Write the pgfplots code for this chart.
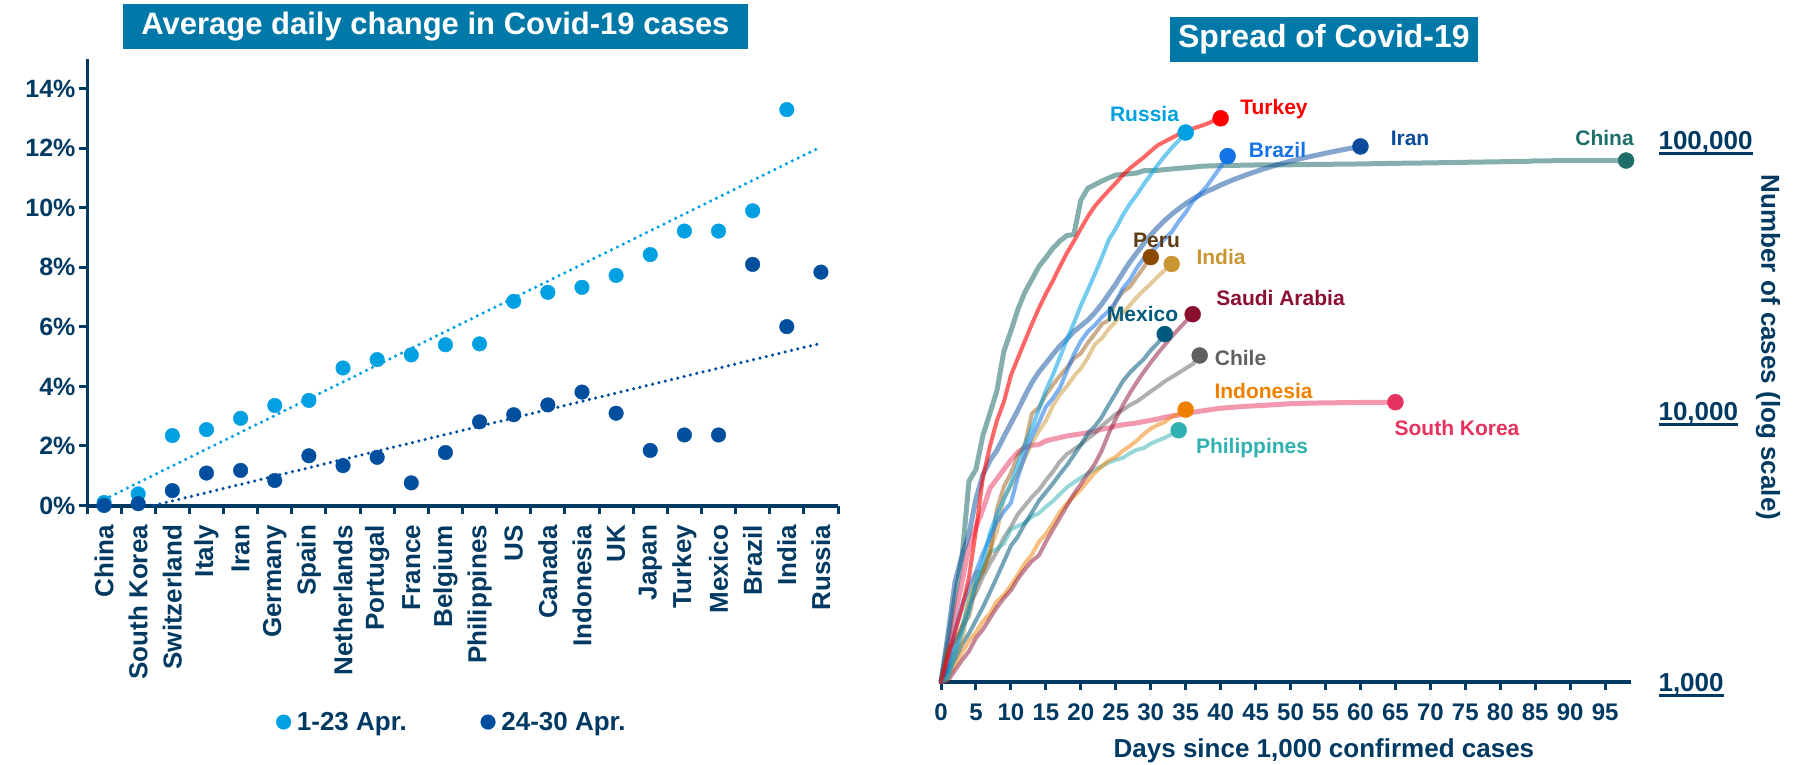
\documentclass[border=0pt]{standalone}
\usepackage{fontspec}
\setmainfont{Liberation Sans}
\usepackage{pgfplots}
\pgfplotsset{compat=1.18}
\definecolor{navy}{RGB}{0,58,99}
\definecolor{titlebg}{RGB}{0,120,168}
\definecolor{lblue}{RGB}{0,160,226}
\definecolor{dblue}{RGB}{0,78,158}
\definecolor{cChina}{RGB}{31,110,106}
\definecolor{cTurkey}{RGB}{255,0,0}
\definecolor{cRussia}{RGB}{0,160,225}
\definecolor{cBrazil}{RGB}{20,115,230}
\definecolor{cIran}{RGB}{10,75,155}
\definecolor{cPeru}{RGB}{139,74,0}
\definecolor{cPeruT}{RGB}{95,60,20}
\definecolor{cIndia}{RGB}{200,150,50}
\definecolor{cMexico}{RGB}{0,90,125}
\definecolor{cSaudi}{RGB}{139,16,48}
\definecolor{cChile}{RGB}{96,96,96}
\definecolor{cIndo}{RGB}{240,128,0}
\definecolor{cKorea}{RGB}{230,50,95}
\definecolor{cPhil}{RGB}{48,176,176}
\newcommand\fs[1]{\fontsize{#1}{#1}\selectfont\bfseries}
\newcommand\ul[1]{\setbox0\hbox{#1}\rlap{\rule[-6pt]{\wd0}{3pt}}\box0}
\begin{document}
\begin{tikzpicture}
\useasboundingbox (0,0) rectangle (1793pt,764pt);
% ---------------- left chart ----------------
\begin{axis}[
  scale only axis, width=751pt, height=446.5pt,
  at={(87pt,258.5pt)}, anchor=south west,
  xmin=-0.5, xmax=21.5, ymin=0, ymax=15, clip=false,
  axis x line*=bottom, axis y line*=left,
  x axis line style={line width=4pt, navy},
  y axis line style={line width=3pt, navy},
  xtick={0,...,21},
  xticklabels={China,South Korea,Switzerland,Italy,Iran,Germany,Spain,Netherlands,Portugal,France,Belgium,Philippines,US,Canada,Indonesia,UK,Japan,Turkey,Mexico,Brazil,India,Russia},
  minor xtick={-0.5,0.5,...,21.5},
  ytick={0,2,...,14},
  yticklabels={0\%,2\%,4\%,6\%,8\%,10\%,12\%,14\%},
  tick align=outside, major tick length=8pt, minor tick length=8pt,
  every major x tick/.append style={draw=none},
  every minor x tick/.append style={line width=3pt, navy},
  every major y tick/.append style={line width=3pt, navy},
  xticklabel style={rotate=90, anchor=east, font=\fs{26}, text=navy, xshift=-8pt},
  yticklabel style={font=\fs{25}, text=navy},
  every axis title shift=0pt,
  title={Average daily change in Covid-19 cases},
  title style={at={(axis description cs:0.464,1.0717)}, anchor=center, fill=titlebg, text=white, font=\fs{31}, minimum width=625pt, minimum height=45pt, inner sep=0pt},
  legend columns=2,
  legend style={at={(axis description cs:0.486,-0.485)}, anchor=center, draw=none, fill=none, font=\fs{26}, text=navy, inner sep=0pt, nodes={inner sep=2pt}, /tikz/every odd column/.append style={column sep=4pt}, /tikz/every even column/.append style={column sep=72pt}},
  legend image code/.code={\draw[#1] plot coordinates {(0pt,0pt)};},
]
\addplot[lblue, line width=3.5pt, dash pattern=on 0pt off 6.5pt, line cap=round, forget plot] coordinates {(0,0.2) (21,12.05)};
\addplot[dblue, line width=3.5pt, dash pattern=on 0pt off 6.5pt, line cap=round, forget plot] coordinates {(1.45,0) (21,5.45)};
\addplot[only marks, mark=*, mark size=7.3pt, lblue, mark options={draw=none, fill=lblue}] coordinates {
(0,0.1) (1,0.39) (2,2.35) (3,2.55) (4,2.93) (5,3.36) (6,3.53) (7,4.62) (8,4.9) (9,5.06) (10,5.4) (11,5.43) (12,6.86) (13,7.16) (14,7.33) (15,7.73) (16,8.43) (17,9.22) (18,9.22) (19,9.9) (20,13.3)};
\addlegendentry{1-23 Apr.}
\addplot[only marks, mark=*, mark size=7.3pt, dblue, mark options={draw=none, fill=dblue}] coordinates {
(0,0) (1,0.06) (2,0.5) (3,1.09) (4,1.18) (5,0.84) (6,1.67) (7,1.34) (8,1.62) (9,0.76) (10,1.78) (11,2.81) (12,3.05) (13,3.38) (14,3.81) (15,3.1) (16,1.85) (17,2.37) (18,2.37) (19,8.1) (20,6.01) (21,7.84)};
\addlegendentry{24-30 Apr.}
\end{axis}
% ---------------- right chart ----------------
\begin{axis}[
  scale only axis, width=690pt, height=623.6pt,
  at={(941pt,82pt)}, anchor=south west,
  xmin=0, xmax=98.7, ymode=log, ymin=1000, ymax=200000, clip=false,
  axis x line*=bottom, axis y line*=right,
  x axis line style={line width=4pt, navy},
  y axis line style={draw=none},
  xtick={0,5,...,95},
  /pgf/number format/assume math mode=true,
  ytick={1000,10000,100000},
  yticklabels={\ul{1,000},\ul{10,000},\ul{100,000}},
  yminorticks=false, xminorticks=false,
  tick align=outside, major tick length=8pt,
  every major x tick/.append style={line width=3pt, navy},
  every major y tick/.append style={draw=none},
  xticklabel style={font=\fs{24}, text=navy, yshift=-10pt},
  yticklabel style={font=\fs{26}, text=navy, anchor=base west, yshift=-9.3pt, xshift=16pt},
  xlabel={Days since 1,000 confirmed cases},
  xlabel style={at={(axis description cs:0.555,-0.1107)}, anchor=center, font=\fs{26}, text=navy},
  ylabel={Number of cases (log scale)},
  ylabel style={at={(axis description cs:1.1986,0.5364)}, anchor=center, rotate=180, font=\fs{26}, text=navy},
  every axis title shift=0pt,
  title={Spread of Covid-19},
  title style={at={(axis description cs:0.555,1.0303)}, anchor=center, fill=titlebg, text=white, font=\fs{32}, minimum width=308pt, minimum height=45pt, inner sep=0pt},
  every axis plot/.append style={line join=round, line cap=round},
]
% China
\addplot[cChina, draw opacity=0.55, line width=5pt] coordinates {
(0,1000) (1,1406) (2,2075) (3,2877) (4,5509) (5,6087) (6,8141) (7,9802) (8,11891) (9,16630) (10,19716) (11,23707) (12,27440) (13,30587) (14,34110) (15,36814) (16,39829) (17,42354) (18,44386) (19,44759) (20,59895) (21,66358) (22,68413) (23,70513) (24,72434) (25,74211) (26,74619) (27,75077) (28,75550) (29,77001) (30,77022) (31,77241) (32,77754) (33,78166) (34,78600) (35,78928) (36,79356) (37,79932) (38,80136) (40,80411) (45,80860) (50,81003) (55,81300) (60,81554) (65,81999) (70,82295) (75,82718) (80,83097) (84,83403) (85,83760) (90,83868) (95,83940) (98,83956)};
% South Korea
\addplot[cKorea, draw opacity=0.5, line width=5pt] coordinates {
(0,1000) (1,1261) (2,1766) (3,2337) (4,3150) (5,3736) (6,4335) (7,5186) (8,5621) (9,6088) (10,6593) (11,7041) (12,7314) (13,7478) (14,7513) (15,7755) (16,7869) (17,7979) (18,8086) (19,8162) (20,8236) (21,8320) (22,8413) (23,8565) (24,8652) (25,8799) (26,8897) (27,8961) (28,9037) (29,9137) (30,9241) (31,9332) (32,9478) (33,9583) (34,9661) (35,9786) (36,9887) (37,9976) (38,10062) (39,10156) (40,10237) (42,10331) (44,10423) (46,10480) (48,10564) (50,10635) (52,10674) (54,10702) (56,10718) (58,10738) (60,10752) (62,10761) (65,10774)};
% Iran
\addplot[cIran, draw opacity=0.5, line width=5pt] coordinates {
(0,1000) (1,1501) (2,2336) (3,2922) (4,3513) (5,4747) (6,5823) (7,6566) (8,7161) (9,8042) (10,9000) (11,10075) (12,11364) (13,12729) (14,13938) (15,14991) (16,16169) (17,17361) (18,18407) (19,19644) (20,20610) (21,21638) (22,23049) (23,24811) (24,27017) (25,29406) (26,32332) (27,35408) (28,38309) (29,41495) (30,44605) (31,47593) (32,50468) (33,53183) (34,55743) (35,58226) (36,60500) (37,62589) (38,64586) (39,66220) (40,68192) (42,71686) (44,74877) (46,77995) (48,80868) (50,83505) (52,85996) (54,88194) (56,90481) (58,92584) (60,94640)};
% Chile
\addplot[cChile, draw opacity=0.5, line width=4pt] coordinates {
(0,1000) (1,1142) (2,1306) (3,1610) (4,1909) (5,2139) (6,2449) (7,2738) (8,3031) (9,3404) (10,3737) (11,4161) (12,4471) (13,4815) (14,5116) (15,5546) (16,5972) (17,6501) (18,6927) (19,7213) (20,7525) (21,7917) (22,8273) (23,8807) (24,9252) (25,9730) (26,10088) (27,10507) (28,10832) (29,11296) (30,11812) (31,12306) (32,12858) (33,13331) (34,13813) (35,14365) (36,14885) (37,16023)};
% Philippines
\addplot[cPhil, draw opacity=0.5, line width=4pt] coordinates {
(0,1000) (1,1075) (2,1418) (3,1546) (4,2084) (5,2311) (6,2633) (7,3018) (8,3094) (9,3246) (10,3660) (11,3764) (12,3870) (13,4076) (14,4195) (15,4428) (16,4648) (17,4932) (18,5223) (19,5453) (20,5660) (21,5878) (22,6087) (23,6259) (24,6459) (25,6599) (26,6710) (27,6981) (28,7192) (29,7294) (30,7579) (31,7777) (32,7958) (33,8212) (34,8488)};
% Indonesia
\addplot[cIndo, draw opacity=0.5, line width=4pt] coordinates {
(0,1000) (1,1046) (2,1155) (3,1285) (4,1414) (5,1528) (6,1677) (7,1790) (8,1986) (9,2092) (10,2273) (11,2491) (12,2738) (13,2956) (14,3293) (15,3512) (16,3842) (17,4241) (18,4557) (19,4839) (20,5136) (21,5516) (22,5923) (23,6248) (24,6575) (25,6760) (26,7135) (27,7418) (28,7775) (29,8211) (30,8607) (31,8882) (32,9096) (33,9511) (34,9771) (35,10118)};
% Saudi Arabia
\addplot[cSaudi, draw opacity=0.5, line width=4pt] coordinates {
(0,1000) (1,1012) (2,1104) (3,1203) (4,1299) (5,1453) (6,1563) (7,1720) (8,1885) (9,2039) (10,2179) (11,2402) (12,2605) (13,2795) (14,2932) (15,3287) (16,3651) (17,4033) (18,4462) (19,4934) (20,5369) (21,5862) (22,6380) (23,7142) (24,8274) (25,9362) (26,10484) (27,11631) (28,12772) (29,13930) (30,15102) (31,16299) (32,17522) (33,18811) (34,20077) (35,21402) (36,22753)};
% Mexico
\addplot[cMexico, draw opacity=0.55, line width=4pt] coordinates {
(0,1000) (1,1094) (2,1215) (3,1378) (4,1510) (5,1688) (6,1890) (7,2143) (8,2439) (9,2785) (10,3181) (11,3441) (12,3844) (13,4219) (14,4661) (15,5014) (16,5399) (17,5847) (18,6297) (19,6875) (20,7497) (21,8261) (22,8772) (23,9501) (24,10544) (25,11633) (26,12872) (27,13842) (28,14677) (29,15529) (30,16752) (31,17799) (32,19224)};
% India
\addplot[cIndia, draw opacity=0.5, line width=4pt] coordinates {
(0,1000) (1,1024) (2,1251) (3,1397) (4,1998) (5,2543) (6,2567) (7,3082) (8,3588) (9,4778) (10,5311) (11,5916) (12,6725) (13,7598) (14,8446) (15,9205) (16,10453) (17,11487) (18,12322) (19,13430) (20,14352) (21,15722) (22,17615) (23,18539) (24,20080) (25,21370) (26,23077) (27,24530) (28,26283) (29,27890) (30,29451) (31,31324) (32,33062) (33,34863)};
% Peru
\addplot[cPeru, draw opacity=0.45, line width=4pt] coordinates {
(0,1000) (1,1323) (2,1414) (3,1595) (4,1746) (5,2281) (6,2561) (7,2954) (8,4342) (9,5256) (10,5897) (11,6848) (12,7519) (13,9784) (14,10303) (15,11475) (16,12491) (17,13489) (18,14420) (19,15628) (20,16325) (21,17837) (22,19250) (23,20914) (24,21648) (25,25331) (26,27517) (27,28699) (28,31190) (29,33931) (30,36976)};
% Brazil
\addplot[cBrazil, draw opacity=0.55, line width=4pt] coordinates {
(0,1000) (1,1128) (2,1546) (3,1924) (4,2247) (5,2554) (6,2985) (7,3417) (8,3904) (9,4256) (10,4579) (11,5717) (12,6836) (13,8044) (14,9056) (15,10360) (16,11130) (17,12161) (18,14034) (19,16170) (20,18092) (21,19638) (22,20727) (23,22192) (24,23430) (25,25262) (26,28320) (27,30425) (28,33682) (29,36658) (30,38654) (31,40743) (32,43079) (33,45757) (34,50036) (35,54043) (36,59324) (37,63100) (38,67446) (39,73235) (40,79685) (41,87187)};
% Russia
\addplot[cRussia, draw opacity=0.55, line width=4pt] coordinates {
(0,1000) (1,1036) (2,1264) (3,1534) (4,1836) (5,2337) (6,2777) (7,3548) (8,4149) (9,4731) (10,5389) (11,6343) (12,7497) (13,8672) (14,10131) (15,11917) (16,13584) (17,15770) (18,18328) (19,21102) (20,24490) (21,27938) (22,32008) (23,36793) (24,42853) (25,47121) (26,52763) (27,57999) (28,62773) (29,68622) (30,74588) (31,80949) (32,87147) (33,93558) (34,99399) (35,106498)};
% Turkey
\addplot[cTurkey, draw opacity=0.6, line width=4pt] coordinates {
(0,1000) (1,1236) (2,1529) (3,1872) (4,2433) (5,3629) (6,5698) (7,7402) (8,9217) (9,10827) (10,13531) (11,15679) (12,18135) (13,20921) (14,23934) (15,27069) (16,30217) (17,34109) (18,38226) (19,42282) (20,47029) (21,52167) (22,56956) (23,61049) (24,65111) (25,69392) (26,74193) (27,78546) (28,82329) (29,86306) (30,90980) (31,95591) (32,98674) (33,101790) (34,104912) (35,107773) (36,110130) (37,112261) (38,114653) (39,117589) (40,120204)};
% end markers
\addplot[only marks, mark=*, mark size=8pt, cChina, mark options={draw=none,fill=cChina}] coordinates {(98,83956)};
\addplot[only marks, mark=*, mark size=8pt, cKorea, mark options={draw=none,fill=cKorea}] coordinates {(65,10774)};
\addplot[only marks, mark=*, mark size=8pt, cIran, mark options={draw=none,fill=cIran}] coordinates {(60,94640)};
\addplot[only marks, mark=*, mark size=8pt, cChile, mark options={draw=none,fill=cChile}] coordinates {(37,16023)};
\addplot[only marks, mark=*, mark size=8pt, cPhil, mark options={draw=none,fill=cPhil}] coordinates {(34,8488)};
\addplot[only marks, mark=*, mark size=8pt, cIndo, mark options={draw=none,fill=cIndo}] coordinates {(35,10118)};
\addplot[only marks, mark=*, mark size=8pt, cSaudi, mark options={draw=none,fill=cSaudi}] coordinates {(36,22753)};
\addplot[only marks, mark=*, mark size=8pt, cMexico, mark options={draw=none,fill=cMexico}] coordinates {(32,19224)};
\addplot[only marks, mark=*, mark size=8pt, cIndia, mark options={draw=none,fill=cIndia}] coordinates {(33,34863)};
\addplot[only marks, mark=*, mark size=8pt, cPeru, mark options={draw=none,fill=cPeru}] coordinates {(30,36976)};
\addplot[only marks, mark=*, mark size=8pt, cBrazil, mark options={draw=none,fill=cBrazil}] coordinates {(41,87187)};
\addplot[only marks, mark=*, mark size=8pt, cRussia, mark options={draw=none,fill=cRussia}] coordinates {(35,106498)};
\addplot[only marks, mark=*, mark size=8pt, cTurkey, mark options={draw=none,fill=cTurkey}] coordinates {(40,120204)};
\end{axis}
% country labels
\begin{scope}[every node/.style={anchor=base, inner sep=0pt, font=\fs{21}}]
\node[text=cRussia] at (1144.5pt,642.5pt) {Russia};
\node[text=cTurkey] at (1274pt,649pt) {Turkey};
\node[text=cBrazil] at (1277.5pt,606.5pt) {Brazil};
\node[text=cIran] at (1410pt,618.5pt) {Iran};
\node[text=cChina] at (1604.5pt,618.5pt) {China};
\node[text=cPeruT] at (1156.5pt,516.5pt) {Peru};
\node[text=cIndia] at (1221pt,499.5pt) {India};
\node[text=cSaudi] at (1280.5pt,458.5pt) {Saudi Arabia};
\node[text=cMexico] at (1142.5pt,442.5pt) {Mexico};
\node[text=cChile] at (1240.5pt,398.5pt) {Chile};
\node[text=cIndo] at (1263.5pt,365.5pt) {Indonesia};
\node[text=cKorea] at (1457pt,328.5pt) {South Korea};
\node[text=cPhil] at (1252pt,311pt) {Philippines};
\end{scope}
\end{tikzpicture}
\end{document}
